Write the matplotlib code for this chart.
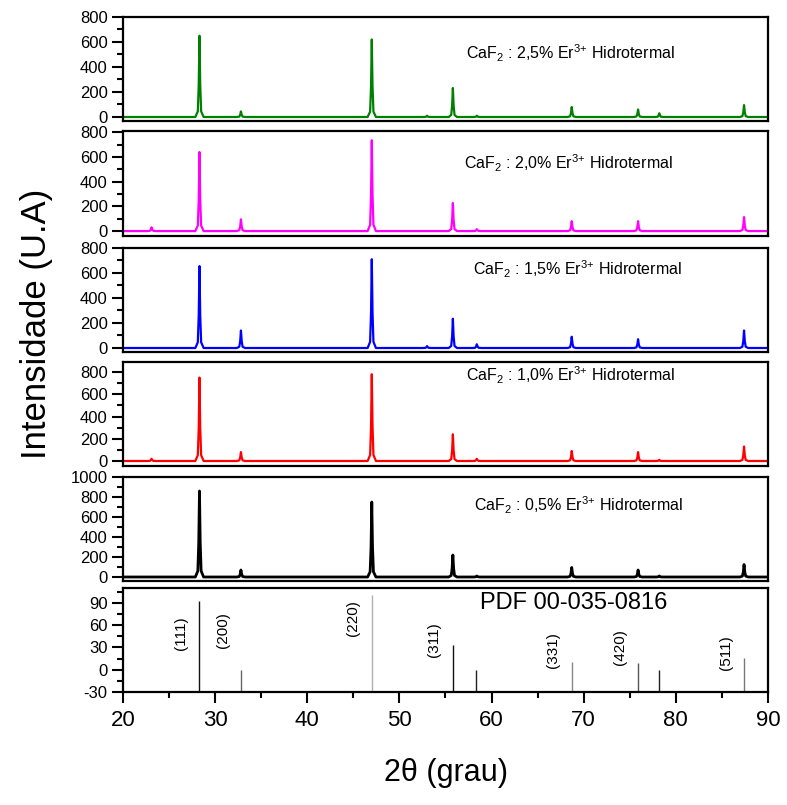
"""
drx_caf2_er.py
Difratogramas de CaF2 dopado com Er3+ (rota hidrotermal) empilhados,
com o padrão de referência PDF 00-035-0816 no painel de baixo.
"""

import matplotlib
matplotlib.use("Agg")
import matplotlib.pyplot as plt
from matplotlib.ticker import MultipleLocator

plt.rcParams["font.family"] = ["Liberation Sans", "DejaVu Sans"]
plt.rcParams["mathtext.fontset"] = "custom"
plt.rcParams["mathtext.rm"] = "Liberation Sans"
plt.rcParams["mathtext.it"] = "Liberation Sans:italic"
plt.rcParams["mathtext.default"] = "regular"
plt.rcParams["axes.unicode_minus"] = False


# ── Dados ─────────────────────────────────────────────────────────────────────

# posições dos picos observados (2θ, graus)
PEAK_POS = [23.1, 28.3, 32.8, 47.0, 53.0, 55.8, 58.4, 68.7, 75.9, 78.2, 87.4]

# intensidade de pico (U.A) para cada amostra, na ordem de PEAK_POS
INT_25 = [0, 650, 45, 620, 10, 232, 10, 80, 60, 30, 95]
INT_20 = [30, 640, 95, 735, 0, 227, 15, 80, 80, 0, 113]
INT_15 = [0, 655, 140, 710, 15, 234, 30, 90, 70, 0, 140]
INT_10 = [20, 750, 80, 780, 0, 240, 20, 90, 80, 10, 130]
INT_05 = [0, 860, 70, 750, 0, 220, 10, 95, 70, 10, 125]

SAMPLE_DOPING = ["2,5%", "2,0%", "1,5%", "1,0%", "0,5%"]

# forma de pico tabelada: deslocamento em 2θ e fração da altura
PROFILE_DX = [-0.45, -0.18, -0.08, 0.0, 0.08, 0.18, 0.45]
PROFILE_FRAC = [0.0, 0.07, 0.40, 1.0, 0.40, 0.07, 0.0]

# padrão de referência PDF 00-035-0816
PDF_CARD = "PDF 00-035-0816"
PDF_POS = [28.3, 32.8, 47.0, 55.8, 58.3, 68.7, 75.9, 78.2, 87.4]
PDF_INT = [93, 0, 100, 33, 0, 10, 9, 0, 16]
PDF_HKL = ["(111)", "(200)", "(220)", "(311)", "", "(331)", "(420)", "", "(511)"]


# ── Layout ────────────────────────────────────────────────────────────────────

FIG_W, FIG_H = 787, 805
AX_LEFT, AX_RIGHT = 123, 768
# (topo, base) de cada painel em pixels
PANEL_PX = [(17, 121), (131, 236), (248, 352), (362, 466), (477, 581), (588, 692)]
YLIMS = [(-32, 800), (-40, 810), (-32, 800), (-45, 890), (-40, 1000), (-30, 110)]
COLORS = ["#008000", "#ff00ff", "#0000ff", "#ff0000", "#000000"]
LINE_W = [1.6, 1.6, 1.6, 1.6, 2.0]
# centro dos rótulos das amostras (2θ, fração do eixo)
LABEL_POS = [(68.6, 0.65), (68.3, 0.69), (69.3, 0.80), (68.6, 0.87), (69.4, 0.73)]
PDF_LABEL_POS = (68.9, 0.86)
STICK_COLORS = ["#111111", "#666666", "#b0b0b0", "#111111", "#222222",
                "#888888", "#555555", "#222222", "#777777"]
HKL_Y = [49, 53, 70, 40, 0, 26, 30, 0, 23]
HKL_DX = -2.0


# ── Helpers ───────────────────────────────────────────────────────────────────

def build_trace(heights):
    xs, ys = [20.0], [0.0]
    for pos, h in zip(PEAK_POS, heights):
        if h <= 0:
            continue
        for dx, frac in zip(PROFILE_DX, PROFILE_FRAC):
            xs.append(pos + dx)
            ys.append(h * frac)
    xs.append(90.0)
    ys.append(0.0)
    return xs, ys


def panel_axes(fig, top, bottom):
    rect = [AX_LEFT / FIG_W, 1 - bottom / FIG_H,
            (AX_RIGHT - AX_LEFT) / FIG_W, (bottom - top) / FIG_H]
    ax = fig.add_axes(rect)
    for sp in ax.spines.values():
        sp.set_linewidth(1.6)
    ax.set_xlim(20, 90)
    ax.tick_params(axis="y", which="major", direction="out", length=8,
                   width=1.5, labelsize=12, pad=3)
    ax.tick_params(axis="y", which="minor", direction="out", length=4.5,
                   width=1.5)
    ax.tick_params(axis="x", which="both", bottom=False, labelbottom=False)
    return ax


# ── Figura ────────────────────────────────────────────────────────────────────

def main():
    fig = plt.figure(figsize=(FIG_W / 100, FIG_H / 100), dpi=100)

    samples = [INT_25, INT_20, INT_15, INT_10, INT_05]
    for i, heights in enumerate(samples):
        top, bottom = PANEL_PX[i]
        ax = panel_axes(fig, top, bottom)
        xs, ys = build_trace(heights)
        ax.plot(xs, ys, color=COLORS[i], lw=LINE_W[i], solid_joinstyle="round")
        ax.set_ylim(*YLIMS[i])
        ax.yaxis.set_major_locator(MultipleLocator(200))
        ax.yaxis.set_minor_locator(MultipleLocator(100))
        lx, ly = LABEL_POS[i]
        ax.text(lx, ly,
                "CaF$_2$ : " + SAMPLE_DOPING[i] + " Er$^{3{+}}$ Hidrotermal",
                transform=ax.get_xaxis_transform(), ha="center", va="center",
                fontsize=11.5)

    # painel de referência
    top, bottom = PANEL_PX[5]
    ax = panel_axes(fig, top, bottom)
    y0, y1 = YLIMS[5]
    ax.set_ylim(y0, y1)
    ax.vlines(PDF_POS, y0, PDF_INT, colors=STICK_COLORS, lw=1.0)
    for pos, hkl, hy in zip(PDF_POS, PDF_HKL, HKL_Y):
        if hkl:
            ax.text(pos + HKL_DX, hy, hkl, rotation=90, ha="center",
                    va="center", fontsize=11)
    ax.text(*PDF_LABEL_POS, PDF_CARD, transform=ax.get_xaxis_transform(),
            ha="center", va="center", fontsize=17)
    ax.yaxis.set_major_locator(MultipleLocator(30))
    ax.yaxis.set_minor_locator(MultipleLocator(15))
    ax.xaxis.set_major_locator(MultipleLocator(10))
    ax.xaxis.set_minor_locator(MultipleLocator(5))
    ax.tick_params(axis="x", which="major", bottom=True, labelbottom=True,
                   direction="out", length=8, width=1.5, labelsize=16, pad=5)
    ax.tick_params(axis="x", which="minor", bottom=True, direction="out",
                   length=4.5, width=1.5)

    fig.text((AX_LEFT + AX_RIGHT) / 2 / FIG_W, 1 - 773 / FIG_H, "2θ (grau)",
             ha="center", va="center", fontsize=22)
    fig.text(37 / FIG_W, 1 - 324 / FIG_H, "Intensidade (U.A)", rotation=90,
             ha="center", va="center", fontsize=25)

    fig.savefig("out.png", dpi=100)
    plt.close(fig)


if __name__ == "__main__":
    main()
